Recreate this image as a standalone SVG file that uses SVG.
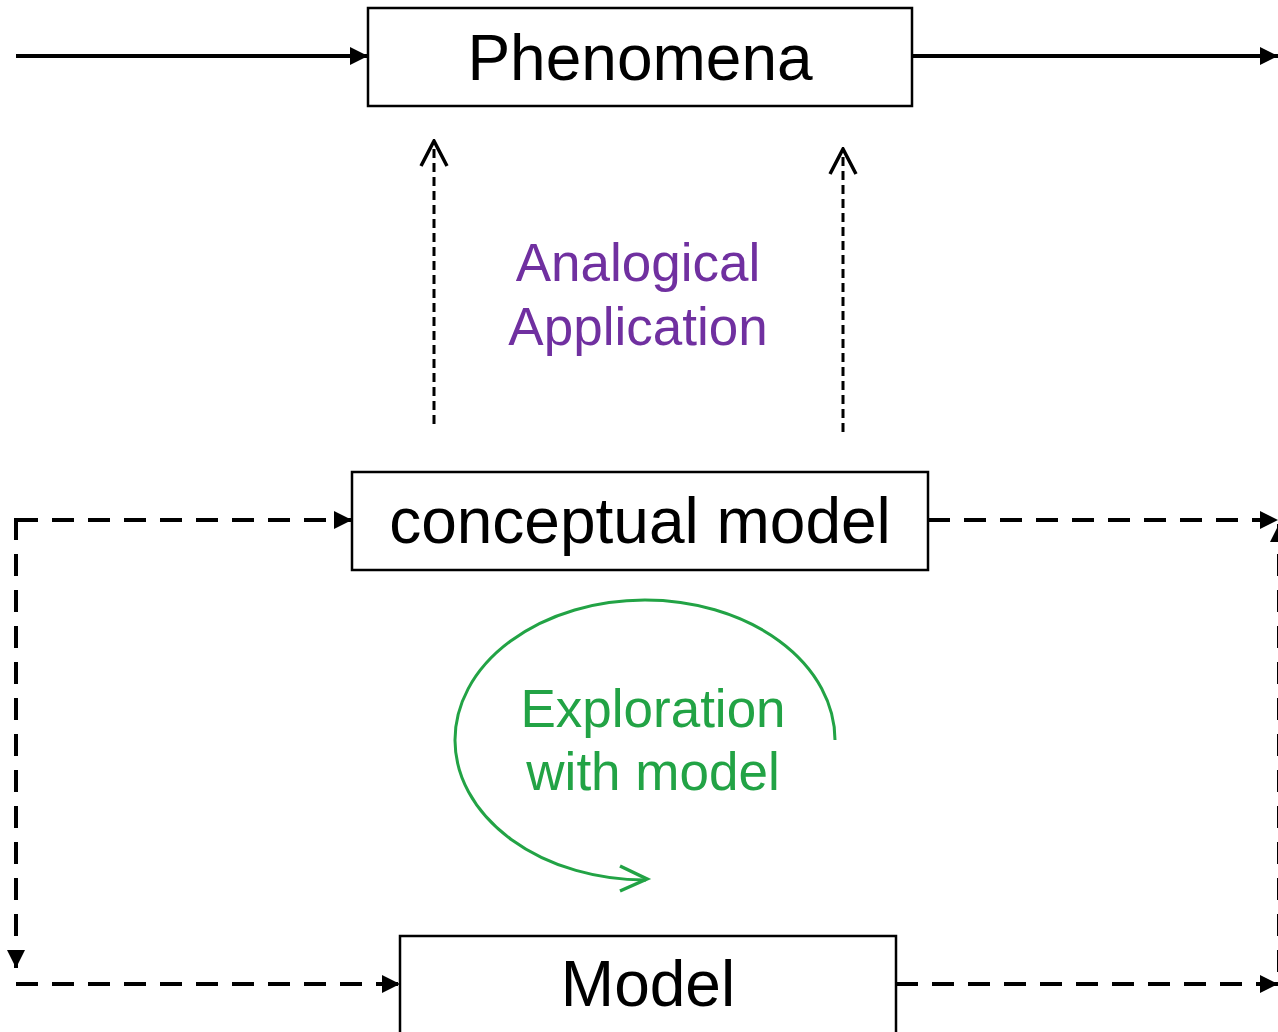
<svg xmlns="http://www.w3.org/2000/svg" width="1278" height="1032" viewBox="0 0 1278 1032">
<defs>
<style>
.box{fill:#fff;stroke:#000;stroke-width:2.5}
.t{font-family:"Liberation Sans",Arial,sans-serif;text-anchor:middle}
.big{font-size:64px;fill:#000}
.purple{font-size:53px;fill:#7030A0}
.green{font-size:53px;fill:#22A345}
.solid{stroke:#000;stroke-width:4;fill:none}
.dash{stroke:#000;stroke-width:4;fill:none;stroke-dasharray:22 14}
.dashthin{stroke:#000;stroke-width:3;fill:none;stroke-dasharray:9 5}
</style>
<marker id="tri" viewBox="0 0 10 10" refX="10" refY="5" markerWidth="19" markerHeight="18" markerUnits="userSpaceOnUse" orient="auto">
<path d="M0,0 L10,5 L0,10 z" fill="#000"/>
</marker>
<marker id="open" viewBox="0 0 30 30" refX="28" refY="15" markerWidth="30" markerHeight="30" markerUnits="userSpaceOnUse" orient="auto">
<path d="M3,2 L28,15 L3,28" fill="none" stroke="#000" stroke-width="3.5"/>
</marker>
</defs>
<rect width="1278" height="1032" fill="#fff"/>
<g id="connectors">
<line class="solid" x1="16" y1="56" x2="368" y2="56" marker-end="url(#tri)"/>
<line class="solid" x1="912" y1="56" x2="1278" y2="56" marker-end="url(#tri)"/>
<line class="dashthin" x1="434" y1="424" x2="434" y2="141" marker-end="url(#open)"/>
<line class="dashthin" x1="843" y1="432" x2="843" y2="149" marker-end="url(#open)"/>
<line class="dash" x1="16" y1="520" x2="352" y2="520" marker-end="url(#tri)"/>
<line class="dash" x1="16" y1="518" x2="16" y2="968" marker-end="url(#tri)"/>
<line class="dash" x1="928" y1="520" x2="1278" y2="520" marker-end="url(#tri)"/>
<line class="dash" x1="16" y1="984" x2="400" y2="984" marker-end="url(#tri)"/>
<line class="dash" x1="896" y1="984" x2="1278" y2="984" marker-end="url(#tri)"/>
<line x1="1279" y1="972" x2="1279" y2="524" stroke="#000" stroke-width="4" stroke-dasharray="22 14" marker-end="url(#tri)"/>
<path d="M835,740 A190,140 0 1 0 646,880" fill="none" stroke="#22A345" stroke-width="3"/>
<path d="M620,866 L647,879 L620,891" fill="none" stroke="#22A345" stroke-width="3.5"/>
</g>
<g id="phenomena">
<rect class="box" x="368" y="8" width="544" height="98"/>
<text class="t big" x="640" y="80">Phenomena</text>
</g>
<g id="analogical-label">
<text class="t purple" x="638" y="281">Analogical</text>
<text class="t purple" x="638" y="345">Application</text>
</g>
<g id="conceptual-model">
<rect class="box" x="352" y="472" width="576" height="98"/>
<text class="t big" x="640" y="543">conceptual model</text>
</g>
<g id="exploration-label">
<text class="t green" x="653" y="727">Exploration</text>
<text class="t green" x="653" y="790">with model</text>
</g>
<g id="model">
<rect class="box" x="400" y="936" width="496" height="110"/>
<text class="t big" x="648" y="1006">Model</text>
</g>
</svg>
